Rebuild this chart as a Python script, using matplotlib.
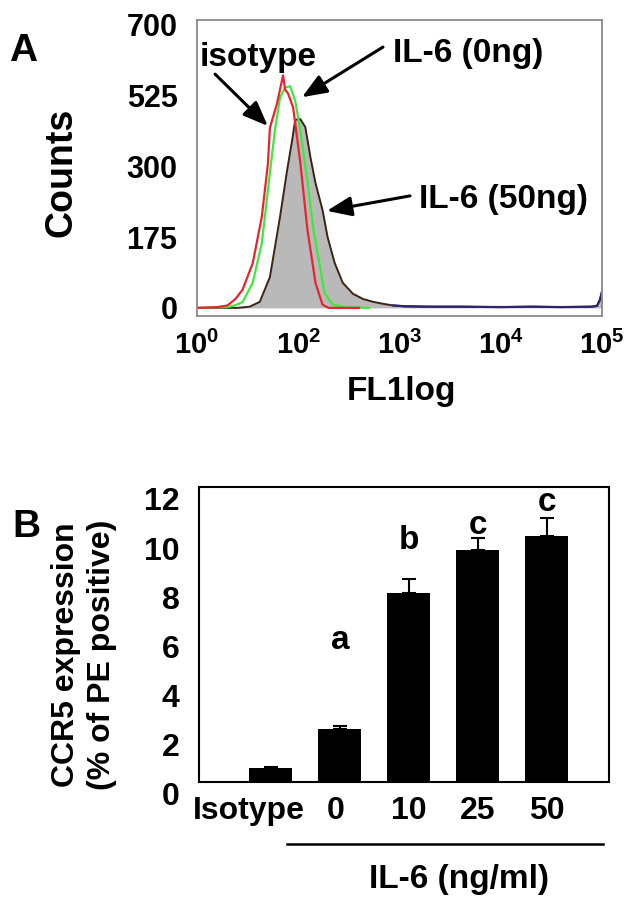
import numpy as np
import matplotlib.pyplot as plt
from matplotlib.transforms import ScaledTranslation

plt.rcParams['font.family'] = ['Liberation Sans', 'DejaVu Sans']
plt.rcParams['font.weight'] = 'bold'
plt.rcParams['axes.labelweight'] = 'bold'
plt.rcParams['mathtext.fontset'] = 'custom'
plt.rcParams['mathtext.rm'] = 'Liberation Sans:bold'
plt.rcParams['mathtext.bf'] = 'Liberation Sans:bold'

# panel A - FL1 histograms (log10 channel, counts)
red_pos = np.array([1.00, 1.20, 1.30, 1.38, 1.45, 1.55, 1.64, 1.70, 1.72, 1.79, 1.85, 1.87,
                    1.90, 1.95, 2.02, 2.09, 2.17, 2.24, 2.30, 2.60])
red_cnt = np.array([0, 2, 6, 22, 45, 110, 225, 355, 445, 505, 575, 540,
                    530, 495, 360, 195, 62, 8, 0, 0])
green_pos = np.array([1.00, 1.30, 1.36, 1.45, 1.55, 1.64, 1.70, 1.77, 1.82, 1.87, 1.92, 1.97,
                      2.02, 2.09, 2.15, 2.22, 2.26, 2.34, 2.48, 2.70])
green_cnt = np.array([0, 2, 5, 14, 62, 160, 290, 440, 520, 545, 548, 512,
                      440, 315, 193, 94, 37, 8, 2, 0])
gray_pos = np.array([1.00, 1.40, 1.52, 1.62, 1.72, 1.82, 1.89, 1.94, 1.97, 2.02, 2.07, 2.12,
                     2.17, 2.24, 2.29, 2.36, 2.44, 2.54, 2.64, 2.74, 2.84, 2.94, 3.05, 3.30,
                     3.60, 4.00, 4.30, 4.60, 4.90, 4.95, 4.98, 5.00])
gray_cnt = np.array([0, 0, 3, 15, 76, 225, 340, 415, 465, 467, 447, 373,
                     309, 242, 175, 111, 62, 35, 22, 15, 10, 6, 4, 3,
                     3, 2, 3, 2, 3, 5, 20, 40])
a_yticks = [0, 175, 350, 525, 700]
a_yticklabels = ['0', '175', '300', '525', '700']
a_xticks = [1e1, 1e2, 1e3, 1e4, 1e5]
a_xticklabels = [r'$\mathbf{10^0}$', r'$\mathbf{10^2}$', r'$\mathbf{10^3}$',
                 r'$\mathbf{10^4}$', r'$\mathbf{10^5}$']

# panel B - CCR5 bars
groups = ['Isotype', '0', '10', '25', '50']
ccr5 = [0.55, 2.15, 7.7, 9.43, 10.0]
ccr5_err = [0.05, 0.12, 0.55, 0.5, 0.73]
letters = ['', 'a', 'b', 'c', 'c']
letter_y = [0, 5.77, 9.84, 10.45, 11.38]

fig = plt.figure(figsize=(6.32, 9.08), dpi=100)

# ---- A ----
ax1 = fig.add_axes([0.3117, 0.652, 0.6408, 0.326])
ax1.set_xscale('log')
ax1.fill_between(10 ** gray_pos, gray_cnt, color='#b9b9b9', lw=0)
ax1.plot(10 ** gray_pos, gray_cnt, color='#3a2418', lw=1.4)
tail = gray_pos >= 2.9
ax1.plot(10 ** gray_pos[tail], gray_cnt[tail], color='#2c2670', lw=1.6)
ax1.plot(10 ** green_pos, green_cnt, color='#3ee83e', lw=1.6)
ax1.plot(10 ** red_pos, red_cnt, color='#e8252f', lw=1.6)
ax1.set_xlim(1e1, 1e5)
ax1.set_ylim(-20, 712)
ax1.set_yticks(a_yticks)
ax1.set_yticklabels(a_yticklabels, fontsize=22)
ax1.set_xticks(a_xticks)
ax1.set_xticklabels(a_xticklabels, fontsize=21)
ax1.minorticks_off()
ax1.tick_params(length=0, pad=14)
ax1.tick_params(axis='x', pad=11)
for s in ax1.spines.values():
    s.set_color('#8a8a8a')
    s.set_linewidth(1.3)
ax1.set_ylabel('Counts', fontsize=27)
ax1.yaxis.set_label_coords(-0.289, 0.486)
ax1.set_xlabel('FL1log', fontsize=24)
ax1.xaxis.set_label_coords(0.506, -0.203)

arrow = dict(arrowstyle='-|>,head_length=0.75,head_width=0.3', lw=2.2, color='k',
             shrinkA=0, shrinkB=0, mutation_scale=20)
ax1.text(40, 620, 'isotype', fontsize=24, ha='center', va='center')
ax1.annotate('', xy=(50, 450), xytext=(15.1, 578), arrowprops=arrow)
ax1.text(4750, 628, 'IL-6 (0ng)', fontsize=24, ha='center', va='center')
ax1.annotate('', xy=(109, 521), xytext=(687, 645), arrowprops=arrow)
ax1.text(10520, 267, 'IL-6 (50ng)', fontsize=24, ha='center', va='center')
ax1.annotate('', xy=(192, 240), xytext=(1270, 277), arrowprops=arrow)
fig.text(23 / 632, 1 - 51 / 908, 'A', fontsize=28, ha='center', va='center')

# ---- B ----
ax2 = fig.add_axes([0.3149, 0.1388, 0.6487, 0.3249])
x = np.arange(len(groups))
ax2.bar(x, ccr5, width=0.62, color='k')
ax2.errorbar(x, ccr5, yerr=[np.zeros(len(ccr5)), ccr5_err], fmt='none',
             ecolor='k', elinewidth=1.5, capsize=5, capthick=1.5)
for xi, lt, ly in zip(x, letters, letter_y):
    ax2.text(xi, ly, lt, fontsize=24, ha='center', va='center')
ax2.set_xlim(-1.04, 4.90)
ax2.set_ylim(0, 12)
ax2.set_yticks(range(0, 13, 2))
ax2.set_yticklabels([str(v) for v in range(0, 13, 2)], fontsize=23)
ax2.set_xticks(x)
ax2.set_xticklabels(groups, fontsize=23)
ax2.tick_params(length=0, pad=14)
ax2.tick_params(axis='x', pad=10)
for lab in ax2.get_yticklabels():
    lab.set_transform(lab.get_transform() + ScaledTranslation(0, -0.12, fig.dpi_scale_trans))
labs = ax2.get_xticklabels()
labs[0].set_transform(labs[0].get_transform() + ScaledTranslation(-0.22, 0, fig.dpi_scale_trans))
labs[1].set_transform(labs[1].get_transform() + ScaledTranslation(-0.04, 0, fig.dpi_scale_trans))
for s in ax2.spines.values():
    s.set_color('k')
    s.set_linewidth(1.5)
ax2.plot([0.2146, 0.985], [-0.21, -0.21], color='k', lw=1.8,
         transform=ax2.transAxes, clip_on=False)
ax2.text(0.634, -0.332, 'IL-6 (ng/ml)', fontsize=24, ha='center', va='center',
         transform=ax2.transAxes)
fig.text(84 / 632, 1 - 655 / 908, 'CCR5 expression\n(% of PE positive)', fontsize=23,
         rotation=90, ha='center', va='center', multialignment='center', linespacing=1.25)
fig.text(26 / 632, 1 - 527 / 908, 'B', fontsize=28, ha='center', va='center')

fig.savefig('out.png', dpi=100)
